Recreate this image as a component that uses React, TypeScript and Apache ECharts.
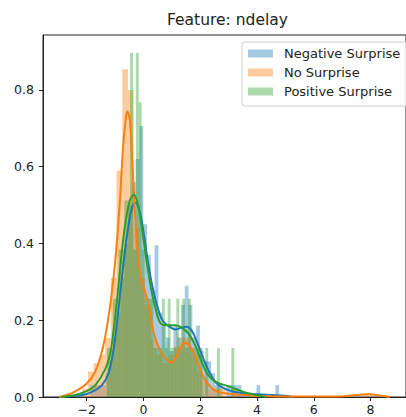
import React, { useEffect, useRef } from 'react';
import * as echarts from 'echarts';

const seriesNames = ['Negative Surprise', 'No Surprise', 'Positive Surprise'];
const seriesColors = ['#1f77b4', '#ff7f0e', '#2ca02c'];
const histFills = ['rgba(31,119,180,0.4)', 'rgba(255,127,14,0.4)', 'rgba(44,160,44,0.4)'];
const xTicks = [-2, 0, 2, 4, 6, 8];
const yTicks = [0, 0.2, 0.4, 0.6, 0.8];
const titleText = 'Feature: ndelay';

// Histogram bins (density)
const negBinStart = -1.87;
const negBinWidth = 0.133;
const negDensity = [
  0.031, 0.031, 0.031, 0.031, 0.062, 0.093, 0.155, 0.22, 0.31, 0.4,
  0.5, 0.56, 0.62, 0.706, 0.45, 0.37, 0.28, 0.395, 0.22, 0.19,
  0.155, 0.12, 0.186, 0.155, 0.24, 0.29, 0.24, 0.155, 0.186, 0.12,
  0.093, 0.093, 0.062, 0.031, 0.031, 0, 0.031, 0.031, 0.031, 0.031,
  0, 0, 0, 0, 0.031, 0, 0, 0, 0, 0.031,
];

const noBinStart = -2.16;
const noBinWidth = 0.202;
const noDensity = [
  0.022, 0.066, 0.088, 0.11, 0.154, 0.31, 0.59, 0.854, 0.8, 0.44,
  0.31, 0.24, 0.15, 0.11, 0.088, 0.11, 0.132, 0.154, 0.154, 0.11,
  0.066, 0.044, 0.022, 0.022, 0.022, 0, 0.022, 0, 0, 0,
  0, 0, 0, 0, 0, 0, 0, 0, 0, 0,
  0, 0, 0, 0, 0, 0, 0, 0, 0, 0.005,
];

const posBinStart = -1.9;
const posBinWidth = 0.102;
const posDensity = [
  0, 0, 0, 0, 0, 0, 0.128, 0.128, 0.256, 0.256,
  0.384, 0.384, 0.512, 0.512, 0.896, 0.384, 0.896, 0.768, 0.384, 0.256,
  0.256, 0.256, 0.128, 0.128, 0.128, 0.256, 0.128, 0.256, 0.128, 0.128,
  0.256, 0.128, 0.256, 0.128, 0.256, 0.128, 0.128, 0.128, 0.128, 0,
  0.128, 0, 0, 0, 0.128, 0, 0, 0, 0, 0.128,
];

// KDE curves
const negKde: [number, number][] = [
  [-2.9, 0], [-2.4, 0.003], [-2.0, 0.008], [-1.7, 0.018], [-1.47, 0.03], [-1.24, 0.06],
  [-1.06, 0.12], [-0.95, 0.183], [-0.85, 0.25], [-0.72, 0.338], [-0.54, 0.442], [-0.4, 0.494],
  [-0.29, 0.506], [-0.14, 0.486], [0.01, 0.425], [0.15, 0.356], [0.32, 0.286], [0.49, 0.235],
  [0.67, 0.2], [0.9, 0.184], [1.13, 0.176], [1.36, 0.181], [1.53, 0.183], [1.71, 0.172],
  [1.88, 0.144], [2.11, 0.1], [2.34, 0.062], [2.57, 0.036], [2.92, 0.02], [3.38, 0.011],
  [4.0, 0.007], [4.6, 0.005], [5.0, 0.003], [5.3, 0],
];

const noKde: [number, number][] = [
  [-2.97, 0], [-2.5, 0.011], [-2.0, 0.035], [-1.7, 0.066], [-1.41, 0.135], [-1.18, 0.235],
  [-1.0, 0.35], [-0.84, 0.5], [-0.72, 0.65], [-0.62, 0.728], [-0.57, 0.744], [-0.48, 0.72],
  [-0.4, 0.624], [-0.31, 0.494], [-0.2, 0.373], [-0.1, 0.315], [0.02, 0.283], [0.2, 0.232],
  [0.35, 0.17], [0.5, 0.135], [0.72, 0.105], [0.96, 0.089], [1.16, 0.105], [1.3, 0.13],
  [1.47, 0.141], [1.68, 0.128], [1.86, 0.1], [2.02, 0.068], [2.22, 0.038], [2.55, 0.016],
  [3.03, 0.008], [3.6, 0.005], [4.0, 0.003], [5.0, 0.001], [6.0, 0.001], [7.0, 0.002],
  [7.5, 0.005], [7.9, 0.007], [8.3, 0.004], [8.68, 0],
];

const posKde: [number, number][] = [
  [-2.9, 0], [-2.4, 0.005], [-1.93, 0.018], [-1.7, 0.03], [-1.35, 0.072], [-1.18, 0.11],
  [-1.06, 0.17], [-0.95, 0.24], [-0.83, 0.33], [-0.66, 0.442], [-0.48, 0.512], [-0.34, 0.527],
  [-0.2, 0.503], [-0.06, 0.442], [0.09, 0.364], [0.26, 0.286], [0.44, 0.226], [0.61, 0.191],
  [0.84, 0.187], [1.13, 0.187], [1.36, 0.18], [1.59, 0.165], [1.82, 0.135], [2.05, 0.092],
  [2.28, 0.057], [2.57, 0.039], [3.03, 0.027], [3.61, 0.011], [4.0, 0.005], [4.3, 0],
];

const FONT = 'DejaVu Sans';
const INK = '#222';

function histData(start: number, width: number, dens: number[]) {
  return dens
    .map((d, i) => [start + i * width, start + (i + 1) * width, d])
    .filter((r) => r[2] > 0);
}

function histSeries(name: string, fill: string, data: number[][]) {
  return {
    type: 'custom',
    name,
    data,
    encode: { x: [0, 1], y: 2 },
    itemStyle: { color: fill },
    renderItem: (params: any, api: any) => {
      const x0 = api.value(0);
      const x1 = api.value(1);
      const h = api.value(2);
      const a = api.coord([x0, h]);
      const b = api.coord([x1, 0]);
      return {
        type: 'rect',
        shape: { x: a[0], y: a[1], width: b[0] - a[0], height: b[1] - a[1] },
        style: { fill },
      };
    },
    z: 2,
  };
}

function kdeSeries(name: string, color: string, data: [number, number][]) {
  return {
    type: 'line',
    name,
    data,
    smooth: 0.35,
    showSymbol: false,
    symbol: 'none',
    lineStyle: { color, width: 2 },
    itemStyle: { color },
    silent: true,
    z: 2,
  };
}

const fmtX = (v: number) => (v < 0 ? '\u2212' + Math.abs(v) : String(v));

export default function App() {
  const ref = useRef<HTMLDivElement>(null);
  useEffect(() => {
    if (!ref.current) return;
    const chart = echarts.init(ref.current, null, { renderer: 'svg' });
    chart.setOption({
      animation: false,
      title: {
        text: titleText,
        left: 167,
        top: 12,
        padding: 0,
        textStyle: { fontFamily: FONT, fontSize: 15.5, fontWeight: 'normal', color: INK },
      },
      legend: {
        orient: 'vertical',
        left: 242,
        top: 42,
        padding: [5, 40, 8, 6],
        itemWidth: 25,
        itemHeight: 8,
        itemGap: 6,
        borderColor: '#d0d0d0',
        borderWidth: 1,
        borderRadius: 3,
        backgroundColor: 'rgba(255,255,255,0.8)',
        textStyle: { fontFamily: FONT, fontSize: 13, color: INK, padding: [0, 0, 0, 6] },
        data: seriesNames.map((n, i) => ({ name: n, icon: 'rect', itemStyle: { color: histFills[i] } })),
      },
      grid: {
        left: 43,
        top: 35,
        right: -7,
        bottom: 20,
        show: true,
        borderColor: INK,
        borderWidth: 1,
      },
      xAxis: {
        type: 'value',
        min: -3.54,
        max: 9.25,
        axisLine: { show: true, onZero: false, lineStyle: { color: INK, width: 1 } },
        axisTick: { show: true, customValues: xTicks, length: 4, lineStyle: { color: INK } },
        axisLabel: { customValues: xTicks, formatter: fmtX, fontFamily: FONT, fontSize: 12.5, color: INK, margin: 6 },
        splitLine: { show: false },
      },
      yAxis: {
        type: 'value',
        min: 0,
        max: 0.943,
        axisLine: { show: true, onZero: false, lineStyle: { color: INK, width: 1 } },
        axisTick: { show: true, customValues: yTicks, length: 4, lineStyle: { color: INK } },
        axisLabel: {
          customValues: yTicks,
          formatter: (v: number) => v.toFixed(1),
          fontFamily: FONT,
          fontSize: 12.5,
          color: INK,
          margin: 9,
        },
        splitLine: { show: false },
      },
      series: [
        histSeries(seriesNames[0], histFills[0], histData(negBinStart, negBinWidth, negDensity)),
        kdeSeries('kde-neg', seriesColors[0], negKde),
        histSeries(seriesNames[1], histFills[1], histData(noBinStart, noBinWidth, noDensity)),
        kdeSeries('kde-no', seriesColors[1], noKde),
        histSeries(seriesNames[2], histFills[2], histData(posBinStart, posBinWidth, posDensity)),
        kdeSeries('kde-pos', seriesColors[2], posKde),
      ],
    });
    return () => chart.dispose();
  }, []);
  return (
    <div
      ref={ref}
      style={{ position: 'absolute', left: 0, top: 0, width: 406, height: 417, overflow: 'hidden' }}
    />
  );
}
